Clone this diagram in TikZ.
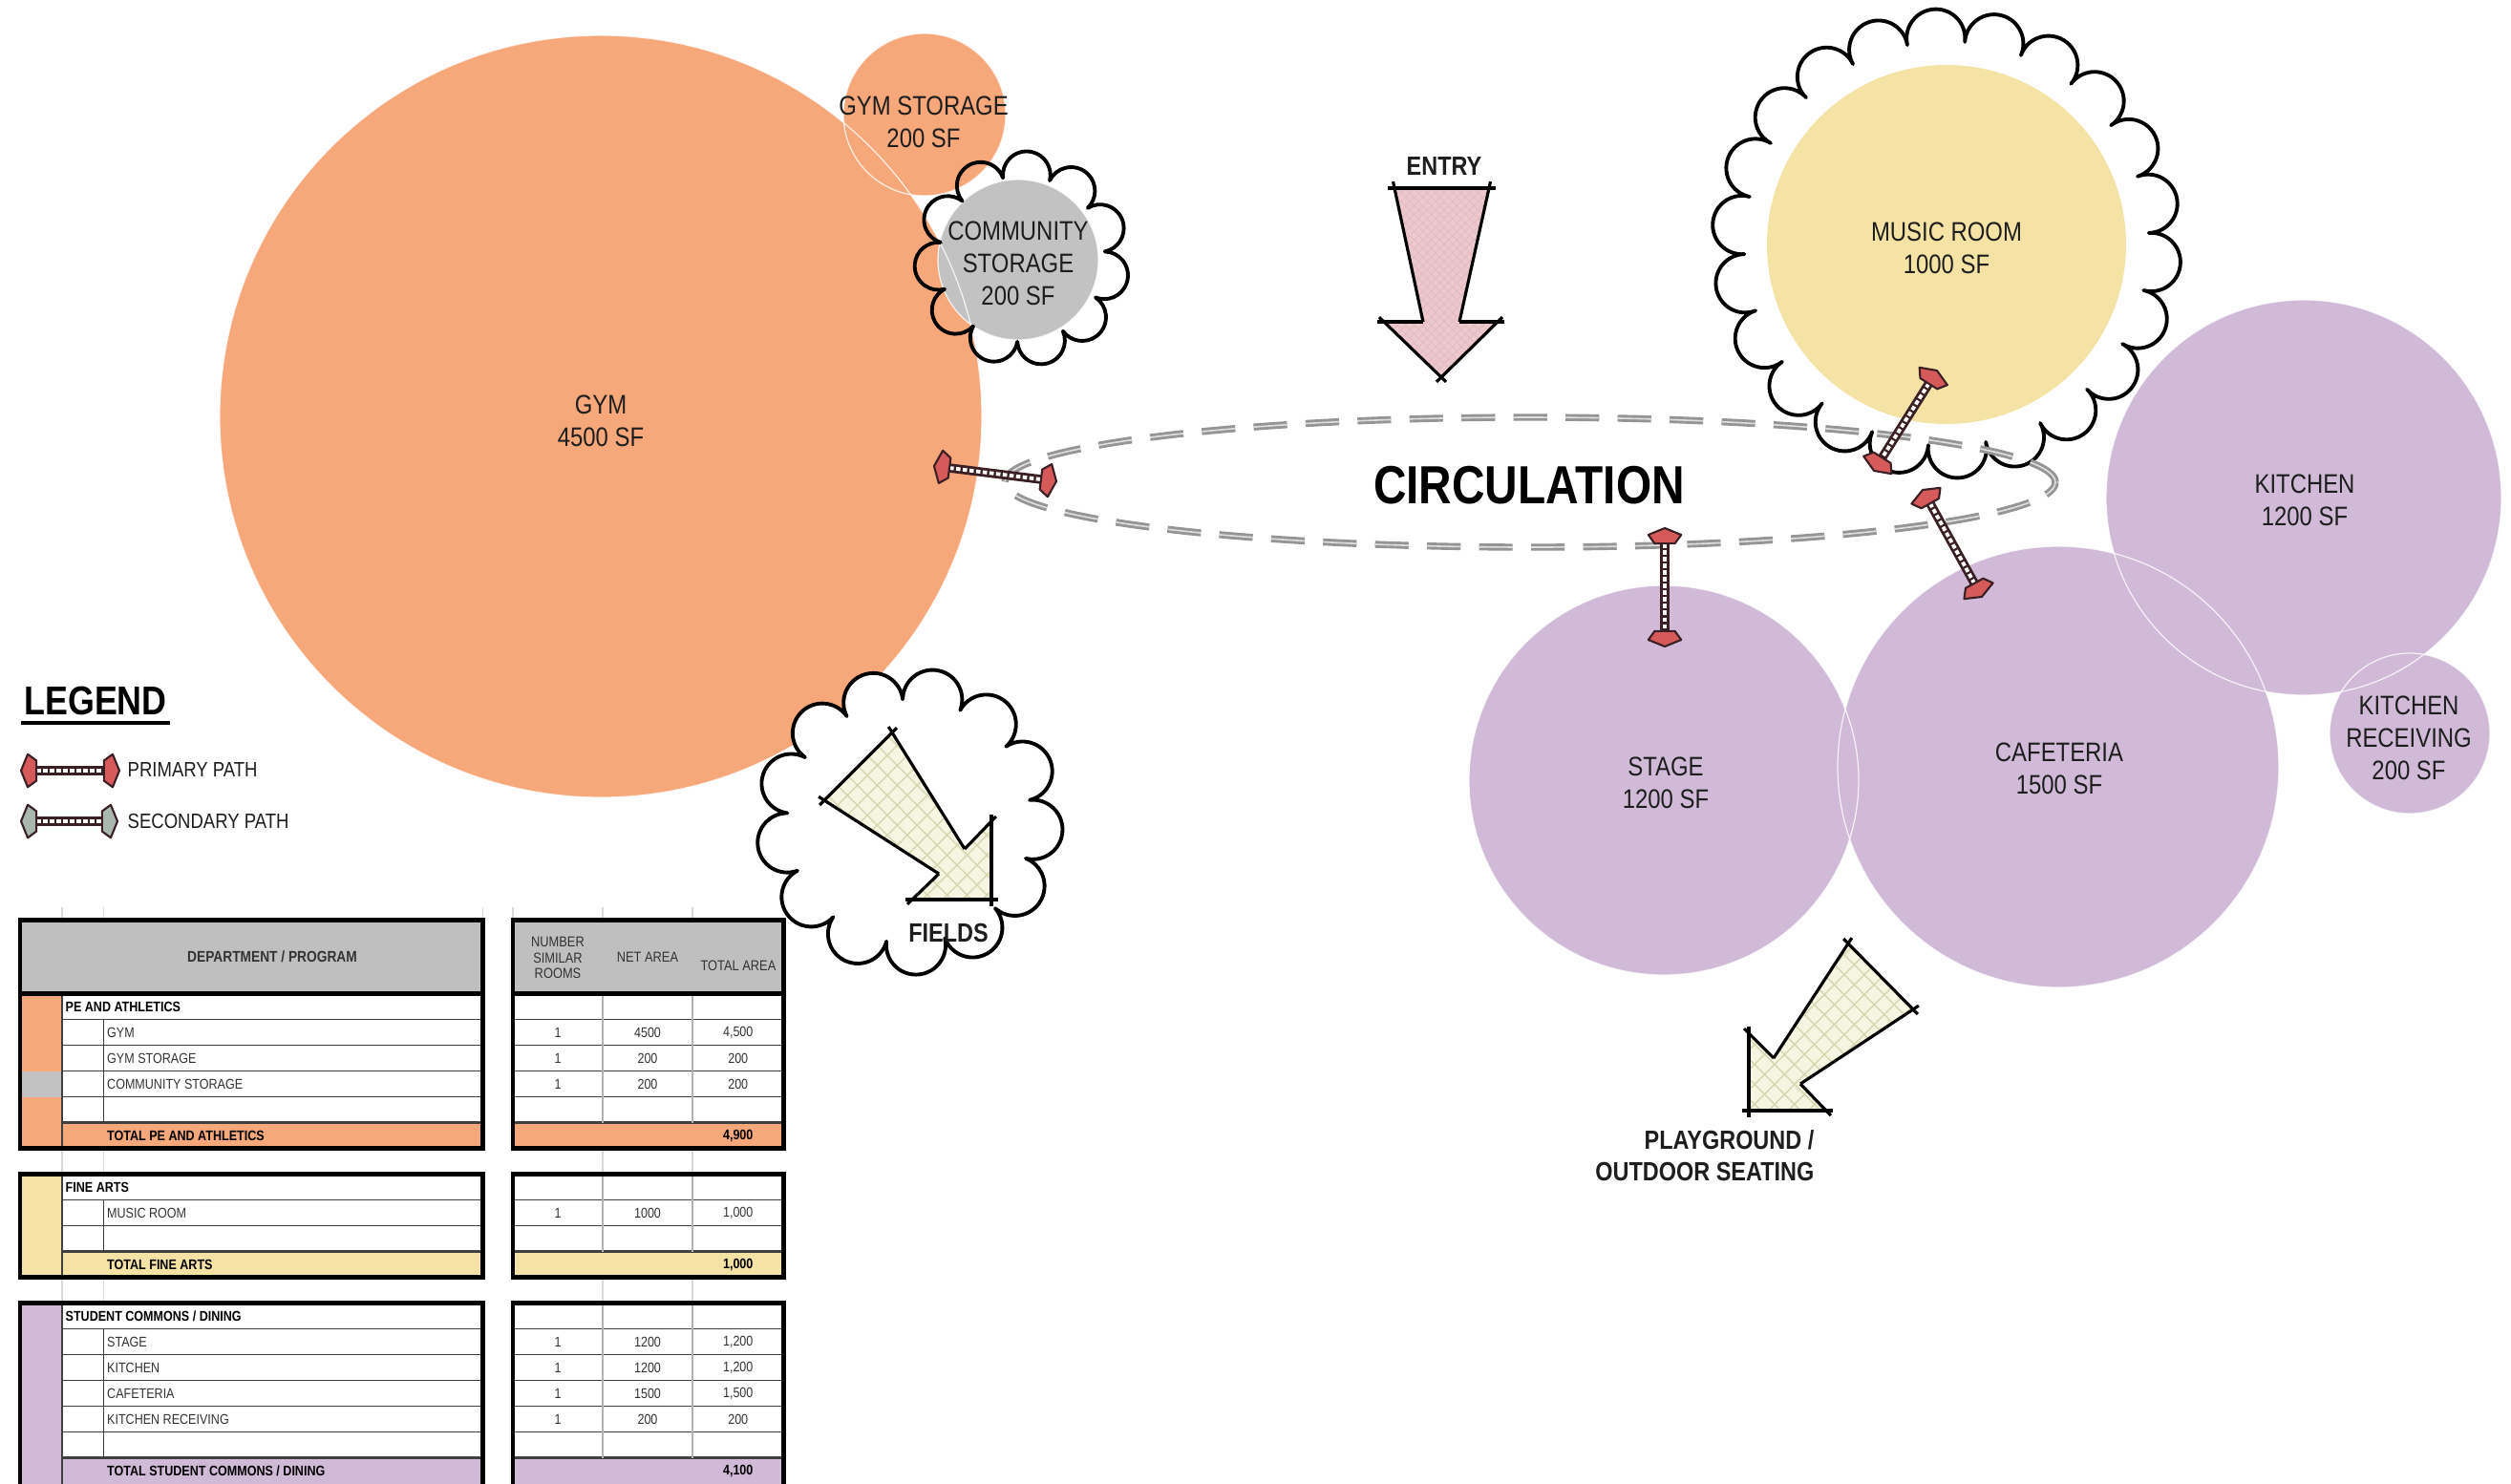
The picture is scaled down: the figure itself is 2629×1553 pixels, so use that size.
\documentclass[tikz,border=0pt]{standalone}
\usepackage{fontspec}
\setmainfont{Liberation Sans}[FakeStretch=0.85]
\usetikzlibrary{calc,decorations.markings,patterns.meta}
\definecolor{gymor}{HTML}{F6A87A}
\definecolor{commgray}{HTML}{C2C2C2}
\definecolor{musicyel}{HTML}{F5E3A6}
\definecolor{purp}{HTML}{D0BAD8}
\definecolor{hdrgray}{HTML}{BFBFBF}
\definecolor{headred}{HTML}{D65A5A}
\definecolor{headgrn}{HTML}{A8B8B0}
\definecolor{shaftdark}{HTML}{3A2024}
\definecolor{circgray}{HTML}{959595}
\definecolor{entrypink}{HTML}{EDC8CC}
\definecolor{entryhatch}{HTML}{E3BCC1}
\definecolor{fieldfill}{HTML}{F5F5E2}
\definecolor{fieldhatch}{HTML}{D6D6B0}
\definecolor{inkdark}{HTML}{1E1E1E}
\definecolor{tabtext}{HTML}{333333}
% #1 style, #2 cx, #3 cy, #4 R, #5 N, #6 span, #7 offset
\newcommand\cloudring[7]{%
  \pgfmathsetmacro\cloudrb{#4*sin(180/#5)/sin(#6/2)}%
  \path[#1] ($(#2,#3)+(#7:#4)$)
    \foreach \k in {1,...,#5}{ arc[start angle={#7+(\k-0.5)*360/#5-#6/2}, end angle={#7+(\k-0.5)*360/#5+#6/2}, radius=\cloudrb] } -- cycle;
}
\newcommand\tabitem[5]{%
  \node[tcell, anchor=west] (#1-l) at (111.5,-#2) {#3};
  \node[tcell] (#1-n) at (584,-#2) {1};
  \node[tcell] (#1-a) at (678,-#2) {#4};
  \node[tcell] (#1-t) at (772.75,-#2) {#5};}
\begin{document}
\begin{tikzpicture}[x=0.1mm,y=0.1mm,
  room/.style={font=\fontsize{8}{9.7}\selectfont, text=inkdark, align=center, inner sep=0pt},
  blab/.style={font=\bfseries\fontsize{7.85}{9.4}\selectfont, text=inkdark, align=center, inner sep=0pt},
  circline/.style={draw=white, line width=0.35pt, draw opacity=0.8},
  cloudline/.style={draw=black, line width=1.1pt, line join=round},
  edge/.style={draw=black, line width=0.9pt},
  ovb/.style={shorten <=-2pt, shorten >=-2pt},
  ovs/.style={shorten <=-2pt},
  ove/.style={shorten >=-2pt},
  shaft/.style={draw=shaftdark, line width=2.7pt, shorten <=3.5pt, shorten >=3.5pt},
  pathdash/.style={draw=white, line width=1.1pt, dash pattern=on 1.3pt off 0.7pt, shorten <=4.6pt, shorten >=4.6pt},
  headfill/.style={fill=#1, draw=shaftdark, line width=0.6pt, line join=round},
  heads/.style={decorate, decoration={markings,
    mark=at position 0 with {\draw[headfill=#1] (0,0) -- (2pt,4.9pt) -- (4.6pt,3pt) -- (4.6pt,-3pt) -- (2pt,-4.9pt) -- cycle;},
    mark=at position 1 with {\draw[headfill=#1] (0,0) -- (-2pt,4.9pt) -- (-4.6pt,3pt) -- (-4.6pt,-3pt) -- (-2pt,-4.9pt) -- cycle;}}},
  tcell/.style={font=\fontsize{4.2}{5}\selectfont, text=tabtext, inner sep=0pt},
  tcellb/.style={font=\bfseries\fontsize{4.2}{5}\selectfont, text=black, inner sep=0pt},
  tline/.style={draw=black!75, line width=0.4pt},
  lgline/.style={draw=black!30, line width=0.3pt},
  faint/.style={draw=black!15, line width=0.3pt},
  tborder/.style={draw=black, line width=1.3pt},
]
\useasboundingbox (0,0) rectangle (2629,-1553);
\fill[white] (0,0) rectangle (2629,-1553);

% ---------- PE and athletics
\fill[gymor] (629,-436) circle[radius=399];
\fill[gymor] (968,-120) circle[radius=85];
\fill[commgray] (1066,-272) circle[radius=84];
\draw[circline] (629,-436) circle[radius=399];
\draw[circline] (968,-120) circle[radius=85];
\draw[circline] (1066,-272) circle[radius=84];
\cloudring{cloudline,fill=white}{952}{-860}{128}{13}{200}{10}
\cloudring{cloudline}{1070}{-271}{87}{11}{200}{5}

% ---------- music room
\cloudring{cloudline,fill=white}{2038}{-255}{212}{22}{200}{3}
\fill[musicyel] (2038,-256) circle[radius=188];

% ---------- student commons
\fill[purp] (2412,-521) circle[radius=207];
\fill[purp] (2155,-803) circle[radius=231];
\fill[purp] (1742,-817) circle[radius=204];
\fill[purp] (2523,-768) circle[radius=84];
\draw[circline] (2412,-521) circle[radius=207];
\draw[circline] (2155,-803) circle[radius=231];
\draw[circline] (1742,-817) circle[radius=204];
\draw[circline] (2523,-768) circle[radius=84];

% ---------- circulation
\draw[draw=circgray, line width=2.1pt, dash pattern=on 10pt off 5.5pt] (1602,-505) ellipse [x radius=550, y radius=68];
\draw[draw=white!75!gray, line width=0.45pt, dash pattern=on 10pt off 5.5pt] (1602,-505) ellipse [x radius=550, y radius=68];

% ---------- entry arrow
\coordinate (eA) at (1460,-197); \coordinate (eB) at (1559,-197);
\coordinate (eC) at (1528,-337); \coordinate (eD) at (1568,-337);
\coordinate (eE) at (1509,-395); \coordinate (eF) at (1449,-337);
\coordinate (eG) at (1490,-337);
\fill[entrypink, postaction={pattern={Hatch[angle=45,distance=1.8pt,line width=0.25pt]}, pattern color=entryhatch}]
  (eA) -- (eB) -- (eC) -- (eD) -- (eE) -- (eF) -- (eG) -- cycle;
\draw[edge,ovb] (eA) -- (eB);
\draw[edge,ovs] (eB) -- (eC);
\draw[edge,ove] (eC) -- (eD);
\draw[edge,ovb] (eD) -- (eE);
\draw[edge,ovb] (eE) -- (eF);
\draw[edge,ovs] (eF) -- (eG);
\draw[edge,ove] (eG) -- (eA);

% ---------- fields arrow
\coordinate (fA) at (934,-767); \coordinate (fB) at (1010,-889);
\coordinate (fC) at (1038,-860); \coordinate (fD) at (1038,-942);
\coordinate (fE) at (955,-942); \coordinate (fF) at (983,-915);
\coordinate (fG) at (863,-838);
\fill[fieldfill, postaction={pattern={Hatch[angle=45,distance=4.2pt,line width=0.4pt]}, pattern color=fieldhatch}]
  (fA) -- (fB) -- (fC) -- (fD) -- (fE) -- (fF) -- (fG) -- cycle;
\draw[edge,ovs] (fA) -- (fB);
\draw[edge,ove] (fB) -- (fC);
\draw[edge,ovb] (fC) -- (fD);
\draw[edge,ovb] (fD) -- (fE);
\draw[edge,ovs] (fE) -- (fF);
\draw[edge,ove] (fF) -- (fG);
\draw[edge,ovb] (fG) -- (fA);

% ---------- playground arrow
\coordinate (pA) at (1935,-988); \coordinate (pB) at (2003,-1057);
\coordinate (pC) at (1885,-1135); \coordinate (pD) at (1912,-1163);
\coordinate (pE) at (1831,-1163); \coordinate (pF) at (1831,-1082);
\coordinate (pG) at (1857,-1108);
\fill[fieldfill, postaction={pattern={Hatch[angle=45,distance=4.2pt,line width=0.4pt]}, pattern color=fieldhatch}]
  (pA) -- (pB) -- (pC) -- (pD) -- (pE) -- (pF) -- (pG) -- cycle;
\draw[edge,ovb] (pA) -- (pB);
\draw[edge,ovs] (pB) -- (pC);
\draw[edge,ove] (pC) -- (pD);
\draw[edge,ovb] (pD) -- (pE);
\draw[edge,ovb] (pE) -- (pF);
\draw[edge,ovs] (pF) -- (pG);
\draw[edge,ove] (pG) -- (pA);

% ---------- primary paths
\coordinate (g1) at (978,-488);  \coordinate (g2) at (1106,-504);
\coordinate (s1) at (1743,-553); \coordinate (s2) at (1743,-677);
\coordinate (c1) at (2013,-513); \coordinate (c2) at (2075,-625);
\coordinate (m1) at (2028,-388); \coordinate (m2) at (1962,-493);
\foreach \a/\b in {g1/g2,s1/s2,c1/c2,m1/m2}{
  \draw[shaft] (\a) -- (\b);
  \draw[pathdash] (\a) -- (\b);
  \path[heads=headred] (\a) -- (\b);
}

% ---------- labels
\node[room] (gymlab) at (629,-441) {GYM\\4500 SF};
\node[room] (gslab) at (967,-128) {GYM STORAGE\\200 SF};
\node[room] (cslab) at (1066,-276) {COMMUNITY\\STORAGE\\200 SF};
\node[room] (mrlab) at (2038,-260) {MUSIC ROOM\\1000 SF};
\node[room] (kilab) at (2413,-524) {KITCHEN\\1200 SF};
\node[room] (krlab) at (2522,-773) {KITCHEN\\RECEIVING\\200 SF};
\node[room] (calab) at (2156,-805) {CAFETERIA\\1500 SF};
\node[room] (stlab) at (1744,-820) {STAGE\\1200 SF};
\node[font=\bfseries\fontsize{16}{19}\selectfont, text=black, inner sep=0pt] (circ) at (1601,-508) {CIRCULATION};
\node[blab] (entry) at (1512,-174) {ENTRY};
\node[blab] (fields) at (993,-977) {FIELDS};
\node[blab, align=right, anchor=east] (play) at (1900,-1210.5) {PLAYGROUND /\\OUTDOOR SEATING};

% ---------- legend
\node[font=\bfseries\fontsize{12}{14}\selectfont, text=black, inner sep=0pt] (leg) at (100,-734) {LEGEND};
\draw[line width=1.2pt] ([xshift=-0.6pt,yshift=-2pt]leg.south west) -- ([xshift=0.6pt,yshift=-2pt]leg.south east);
\coordinate (lp1) at (22,-807); \coordinate (lp2) at (125,-807);
\coordinate (ls1) at (22,-860); \coordinate (ls2) at (123,-860);
\draw[shaft] (lp1) -- (lp2); \draw[pathdash] (lp1) -- (lp2); \path[heads=headred] (lp1) -- (lp2);
\draw[shaft] (ls1) -- (ls2); \draw[pathdash] (ls1) -- (ls2); \path[heads=headgrn] (ls1) -- (ls2);
\node[font=\fontsize{6.2}{7}\selectfont, text=inkdark, anchor=west, inner sep=0pt] (lgp) at (133,-806) {PRIMARY PATH};
\node[font=\fontsize{6.2}{7}\selectfont, text=inkdark, anchor=west, inner sep=0pt] (lgs) at (133,-860) {SECONDARY PATH};

% ---------- table fills
\fill[hdrgray] (21,-963.5) rectangle (505.5,-1040.5);
\fill[hdrgray] (537,-963.5) rectangle (820.5,-1040.5);
\fill[gymor] (21,-1040.5) rectangle (65,-1202.5);
\fill[commgray] (21,-1121.5) rectangle (65,-1148.5);
\fill[gymor] (65,-1175.5) rectangle (505.5,-1202.5);
\fill[gymor] (537,-1175.5) rectangle (820.5,-1202.5);
\fill[musicyel] (21,-1229.5) rectangle (65,-1337.5);
\fill[musicyel] (65,-1310.5) rectangle (505.5,-1337.5);
\fill[musicyel] (537,-1310.5) rectangle (820.5,-1337.5);
\fill[purp] (21,-1364.5) rectangle (65,-1580);
\fill[purp] (65,-1526.5) rectangle (505.5,-1580);
\fill[purp] (537,-1526.5) rectangle (820.5,-1580);

% faint grid
\foreach \yy in {1202.5,1337.5}{
  \foreach \xx in {65,108.5,631,725}{ \draw[faint] (\xx,-\yy) -- (\xx,-\yy-27); }
}
\foreach \xx in {65,108.5,505.5,537,631,725}{ \draw[faint] (\xx,-950) -- (\xx,-963.5); }

% PE block lines
\foreach \yy in {1067.5,1094.5,1121.5,1148.5}{
  \draw[tline] (65,-\yy) -- (505.5,-\yy); \draw[tline] (537,-\yy) -- (820.5,-\yy); }
\draw[tline, line width=0.8pt] (65,-1175.5) -- (505.5,-1175.5);
\draw[tline, line width=0.8pt] (537,-1175.5) -- (820.5,-1175.5);
\draw[tline] (108.5,-1067.5) -- (108.5,-1175.5);
\draw[lgline] (631,-1040.5) -- (631,-1175.5);
\draw[lgline] (725,-1040.5) -- (725,-1175.5);
\draw[tline, line width=0.8pt] (65,-1040.5) -- (65,-1202.5);
% FA block lines
\foreach \yy in {1256.5,1283.5}{
  \draw[tline] (65,-\yy) -- (505.5,-\yy); \draw[tline] (537,-\yy) -- (820.5,-\yy); }
\draw[tline, line width=1pt] (65,-1310.5) -- (505.5,-1310.5);
\draw[tline, line width=1pt] (537,-1310.5) -- (820.5,-1310.5);
\draw[tline] (108.5,-1256.5) -- (108.5,-1310.5);
\draw[lgline] (631,-1229.5) -- (631,-1310.5);
\draw[lgline] (725,-1229.5) -- (725,-1310.5);
\draw[tline, line width=0.8pt] (65,-1229.5) -- (65,-1337.5);
% SC block lines
\foreach \yy in {1391.5,1418.5,1445.5,1472.5,1499.5}{
  \draw[tline] (65,-\yy) -- (505.5,-\yy); \draw[tline] (537,-\yy) -- (820.5,-\yy); }
\draw[tline, line width=1pt] (65,-1526.5) -- (505.5,-1526.5);
\draw[tline, line width=1pt] (537,-1526.5) -- (820.5,-1526.5);
\draw[tline] (108.5,-1391.5) -- (108.5,-1526.5);
\draw[lgline] (631,-1364.5) -- (631,-1526.5);
\draw[lgline] (725,-1364.5) -- (725,-1526.5);
\draw[tline, line width=0.8pt] (65,-1364.5) -- (65,-1580);

% borders
\draw[tborder] (21,-963.5) rectangle (505.5,-1040.5);
\draw[tborder] (537,-963.5) rectangle (820.5,-1040.5);
\draw[tborder] (21,-1040.5) rectangle (505.5,-1202.5);
\draw[tborder] (537,-1040.5) rectangle (820.5,-1202.5);
\draw[tborder] (21,-1229.5) rectangle (505.5,-1337.5);
\draw[tborder] (537,-1229.5) rectangle (820.5,-1337.5);
\draw[tborder] (21,-1364.5) rectangle (505.5,-1590);
\draw[tborder] (537,-1364.5) rectangle (820.5,-1590);

% table text
\node[font=\bfseries\fontsize{4.6}{5.5}\selectfont, text=tabtext, inner sep=0pt] (th1) at (285,-1002) {DEPARTMENT / PROGRAM};
\node[font=\fontsize{4.3}{4.7}\selectfont, text=tabtext, inner sep=0pt, align=center] (th2) at (584,-1003) {NUMBER\\SIMILAR\\ROOMS};
\node[font=\fontsize{4.3}{4.7}\selectfont, text=tabtext, inner sep=0pt] (th3) at (678,-1002) {NET AREA};
\node[font=\fontsize{4.3}{4.7}\selectfont, text=tabtext, inner sep=0pt] (th4) at (773,-1011) {TOTAL AREA};

\node[tcellb, anchor=west] (pe) at (68,-1054) {PE AND ATHLETICS};
\tabitem{gym}{1081}{GYM}{4500}{4,500}
\tabitem{gst}{1108}{GYM STORAGE}{200}{200}
\tabitem{cst}{1135}{COMMUNITY STORAGE}{200}{200}
\node[tcellb, anchor=west] (petot) at (111.5,-1189) {TOTAL PE AND ATHLETICS};
\node[tcellb] (petotv) at (772.75,-1189) {4,900};

\node[tcellb, anchor=west] (fa) at (68,-1243) {FINE ARTS};
\tabitem{mus}{1270}{MUSIC ROOM}{1000}{1,000}
\node[tcellb, anchor=west] (fatot) at (111.5,-1324) {TOTAL FINE ARTS};
\node[tcellb] (fatotv) at (772.75,-1324) {1,000};

\node[tcellb, anchor=west] (sc) at (68,-1378) {STUDENT COMMONS / DINING};
\tabitem{stg}{1405}{STAGE}{1200}{1,200}
\tabitem{kit}{1432}{KITCHEN}{1200}{1,200}
\tabitem{caf}{1459}{CAFETERIA}{1500}{1,500}
\tabitem{krc}{1486}{KITCHEN RECEIVING}{200}{200}
\node[tcellb, anchor=west] (sctot) at (111.5,-1540) {TOTAL STUDENT COMMONS / DINING};
\node[tcellb] (sctotv) at (772.75,-1540) {4,100};
\end{tikzpicture}
\end{document}
